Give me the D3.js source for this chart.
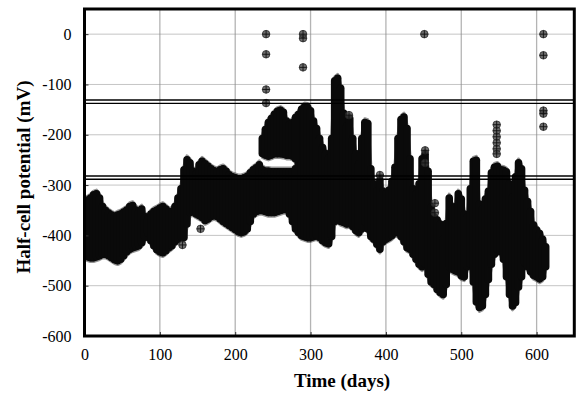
<!DOCTYPE html>
<html>
<head>
<meta charset="utf-8">
<script src="https://cdn.jsdelivr.net/npm/d3@7"></script>
<style>
  body { margin: 0; background: #fff; }
  svg { display: block; font-family: "Liberation Serif", "Times New Roman", serif; }
</style>
</head>
<body>
<div id="chart"></div>
<script>
// Sampled readings: for each day, the top (high) and bottom (low) of the cloud of readings (mV)
const days = [0,4,8,12,16,20,24,28,32,36,40,44,48,52,56,60,64,68,72,76,80,84,88,92,96,100,
  104,108,112,116,120,124,128,132,136,140,144,148,152,156,160,164,168,172,176,180,184,188,192,196,200,
  204,208,212,216,220,224,228,232,236,240,244,248,252,256,260,264,268,272,276,280,284,288,292,296,300,
  304,308,312,316,320,324,328,332,336,340,344,348,352,356,360,364,368,372,376,380,384,388,392,396,400,
  404,408,412,416,420,424,428,432,436,440,444,448,452,456,460,464,468,472,476,480,484,488,492,496,500,
  504,508,512,516,520,524,528,532,536,540,544,548,552,556,560,564,568,572,576,580,584,588,592,596,600,
  604,608,612];
const highs = [-325,-322,-318,-312,-310,-318,-335,-343,-348,-352,-355,-352,-350,-346,-342,-335,-333,-342,-345,-340,-355,-360,-350,-345,-342,-338,
  -335,-340,-345,-345,-335,-318,-300,-262,-242,-248,-265,-270,-252,-245,-250,-255,-260,-264,-266,-262,-260,-265,-272,-276,-278,
  -280,-280,-278,-275,-268,-262,-258,-252,-262,-265,-265,-266,-266,-266,-266,-266,-266,-266,-266,-260,-152,-142,-137,-138,-145,
  -165,-180,-200,-218,-230,-238,-200,-85,-80,-100,-150,-175,-160,-200,-230,-250,-200,-168,-170,-260,-290,-305,-283,-305,-310,
  -303,-285,-257,-200,-162,-157,-180,-240,-300,-310,-290,-240,-231,-265,-336,-356,-362,-370,-400,-369,-318,-340,-335,-310,-320,
  -350,-356,-300,-245,-243,-330,-340,-320,-305,-268,-257,-255,-262,-263,-266,-290,-316,-276,-248,-260,-303,-325,-345,-372,-382,
  -389,-400,-415];
const lows = [-448,-450,-452,-452,-450,-448,-445,-445,-448,-452,-456,-458,-455,-448,-440,-435,-432,-430,-428,-422,-412,-403,-418,-428,-436,-440,
  -442,-438,-432,-428,-420,-415,-410,-412,-385,-362,-360,-365,-368,-372,-378,-375,-370,-368,-370,-375,-380,-384,-388,-392,-396,
  -400,-402,-400,-395,-380,-365,-360,-358,-358,-360,-362,-362,-362,-360,-358,-356,-356,-365,-380,-395,-402,-408,-410,-412,-412,
  -410,-408,-412,-418,-422,-424,-410,-380,-375,-380,-382,-385,-384,-390,-398,-402,-395,-380,-395,-410,-415,-425,-435,-420,-415,
  -412,-408,-402,-402,-410,-420,-432,-435,-445,-455,-465,-470,-465,-485,-500,-505,-515,-521,-525,-505,-470,-475,-478,-480,-488,
  -490,-470,-465,-500,-540,-551,-548,-525,-495,-465,-445,-435,-440,-455,-490,-525,-548,-541,-510,-490,-462,-470,-480,-487,-490,
  -494,-490,-470];

// Upper cluster of readings between days 236 and 280
const upperDays = [236,240,244,248,252,256,260,264,268,272,276,280];
const upperHighs = [-200,-182,-168,-160,-152,-146,-144,-148,-165,-172,-168,-158];
const upperLows = [-245,-248,-250,-248,-245,-245,-245,-246,-248,-248,-250,-255];

// Isolated readings
const outlierDays = [241,241,241,241,290,290,290,451,609,609,609,609,609,154,130,452,452,
  547,547,547,547,547,547,465,465,392,351];
const outlierValues = [0,-40,-110,-137,0,-8,-66,0,0,-42,-152,-158,-184,-387,-419,-231,-256,
  -180,-192,-204,-216,-228,-238,-336,-355,-280,-161];

// Double threshold lines (mV)
const thresholds = [-131, -137.5, -282, -288.5];

const xTicks = [0, 100, 200, 300, 400, 500, 600];
const yTicks = [-600, -500, -400, -300, -200, -100, 0];

const width = 577, height = 394;
const margin = { top: 9, right: 2.7, bottom: 58, left: 84.5 };
const innerW = width - margin.left - margin.right;
const innerH = height - margin.top - margin.bottom;

const svg = d3.select('#chart').append('svg')
  .attr('width', width)
  .attr('height', height);

const g = svg.append('g')
  .attr('transform', `translate(${margin.left},${margin.top})`);

const x = d3.scaleLinear().domain([0, 650]).range([0, innerW]);
const y = d3.scaleLinear().domain([-600, 50]).range([innerH, 0]);

// Grid
g.append('g').selectAll('line')
  .data(xTicks.filter(d => d > 0))
  .join('line')
  .attr('x1', d => x(d)).attr('x2', d => x(d))
  .attr('y1', 0).attr('y2', innerH)
  .attr('stroke', '#b4b4b4')
  .attr('stroke-width', 1.3);

g.append('g').selectAll('line')
  .data(yTicks.filter(d => d > -600))
  .join('line')
  .attr('x1', 0).attr('x2', innerW)
  .attr('y1', d => y(d)).attr('y2', d => y(d))
  .attr('stroke', '#8a8a8a')
  .attr('stroke-width', 1)
  .attr('stroke-dasharray', '1,1');

// Clip data to the plot
svg.append('defs').append('clipPath').attr('id', 'plot-clip')
  .append('rect').attr('width', innerW).attr('height', innerH);

const dataG = g.append('g').attr('clip-path', 'url(#plot-clip)');
const r = 3.8;

const mainBand = days.map((d, i) => ({ day: d, high: highs[i], low: lows[i] }));
const upperBand = upperDays.map((d, i) => ({ day: d, high: upperHighs[i], low: upperLows[i] }));

// Cloud of readings: filled envelope between sampled highs and lows
const area = d3.area()
  .x(d => x(d.day))
  .y0(d => y(d.low))
  .y1(d => y(d.high));

dataG.append('g').selectAll('path')
  .data([mainBand, upperBand])
  .join('path')
  .attr('d', area)
  .attr('fill', '#0a0a0a')
  .attr('stroke', 'rgba(60,60,60,0.55)')
  .attr('stroke-width', 3)
  .attr('stroke-linejoin', 'round');

// Rounded marker-wide bars at each sampled day give the scalloped edge
dataG.append('g').selectAll('rect')
  .data(mainBand.concat(upperBand))
  .join('rect')
  .attr('x', d => x(d.day) - r)
  .attr('width', 2 * r)
  .attr('y', d => y(d.high))
  .attr('height', d => y(d.low) - y(d.high))
  .attr('rx', r)
  .attr('fill', '#0a0a0a');

// Isolated markers: circle with a cross
const outliers = outlierDays.map((d, i) => ({ day: d, value: outlierValues[i] }));
const marks = dataG.append('g').selectAll('g')
  .data(outliers)
  .join('g')
  .attr('transform', d => `translate(${x(d.day)},${y(d.value)})`);

marks.append('circle')
  .attr('r', r)
  .attr('fill', 'rgba(60,60,60,0.75)')
  .attr('stroke', '#222')
  .attr('stroke-width', 0.7);

marks.append('path')
  .attr('d', `M${-r},0H${r}M0,${-r}V${r}`)
  .attr('stroke', '#111')
  .attr('stroke-width', 0.9);

// Threshold lines
g.append('g').selectAll('line')
  .data(thresholds)
  .join('line')
  .attr('x1', 0).attr('x2', innerW)
  .attr('y1', d => y(d)).attr('y2', d => y(d))
  .attr('stroke', '#000')
  .attr('stroke-width', 1.4);

// Axes (plain hyphen minus, as in the original)
const yAxis = g.append('g')
  .call(d3.axisLeft(y).tickValues(yTicks).tickFormat(d => String(d)).tickSize(-4).tickPadding(13));
const xAxis = g.append('g')
  .attr('transform', `translate(0,${innerH})`)
  .call(d3.axisBottom(x).tickValues(xTicks).tickFormat(d => String(d)).tickSize(-4).tickPadding(13));

[xAxis, yAxis].forEach(a => {
  a.select('.domain').remove();
  a.selectAll('.tick line').attr('stroke', '#333');
  a.selectAll('text')
    .attr('font-family', '"Liberation Serif", "Times New Roman", serif')
    .attr('font-size', 16)
    .attr('fill', '#000');
});

// Frame
g.append('rect')
  .attr('width', innerW)
  .attr('height', innerH)
  .attr('fill', 'none')
  .attr('stroke', '#000')
  .attr('stroke-width', 3);

// Axis titles
svg.append('text')
  .attr('x', 342)
  .attr('y', 387)
  .attr('text-anchor', 'middle')
  .attr('font-size', 19)
  .attr('font-weight', 'bold')
  .text('Time (days)');

svg.append('text')
  .attr('transform', 'translate(30,177) rotate(-90)')
  .attr('text-anchor', 'middle')
  .attr('font-size', 19)
  .attr('font-weight', 'bold')
  .text('Half-cell potential (mV)');
</script>
</body>
</html>
